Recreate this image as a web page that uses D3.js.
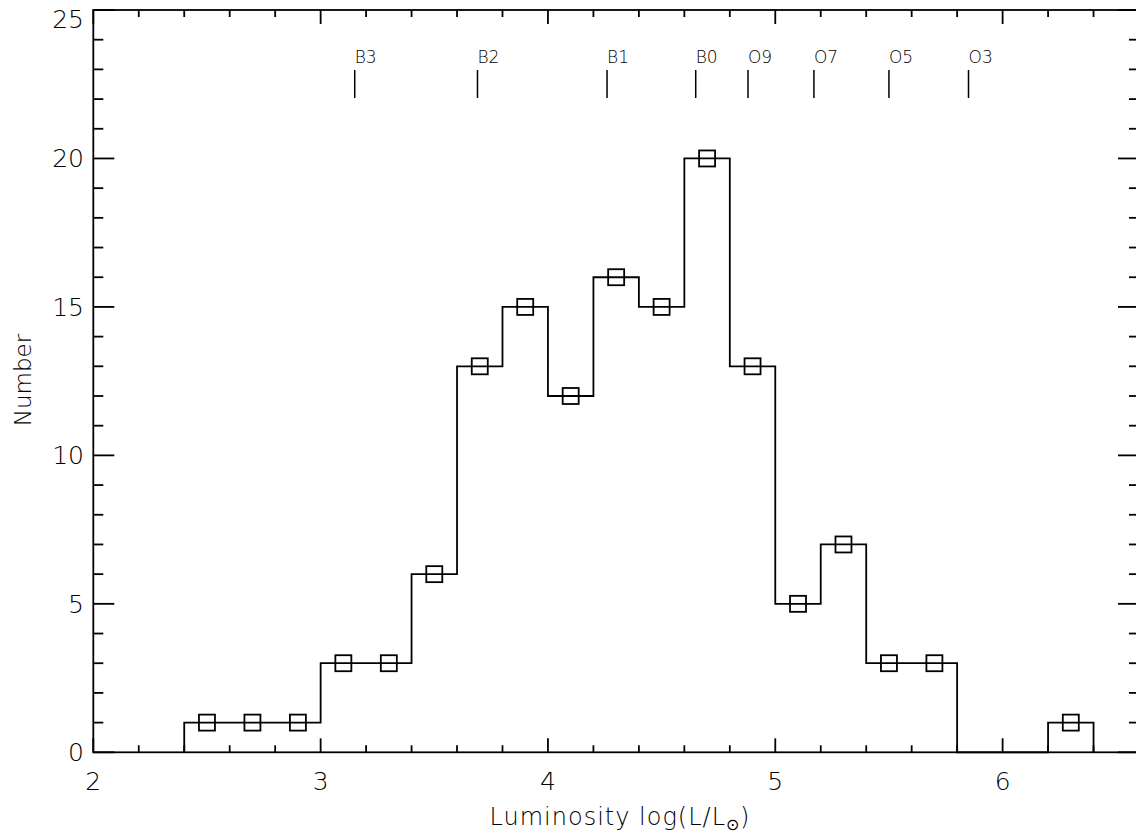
<!DOCTYPE html>
<html>
<head>
<meta charset="utf-8">
<script src="https://cdn.jsdelivr.net/npm/d3@7"></script>
<style>
  body { margin: 0; background: #fff; }
  text { font-family: "DejaVu Sans", "Liberation Sans", sans-serif; font-weight: 200; fill: #000; }
</style>
</head>
<body>
<svg id="chart"></svg>
<script>
// histogram bins (left edge, 0.2 wide) and counts
var binStarts = [2.4, 2.6, 2.8, 3.0, 3.2, 3.4, 3.6, 3.8, 4.0, 4.2, 4.4, 4.6, 4.8, 5.0, 5.2, 5.4, 5.6, 5.8, 6.0, 6.2];
var counts    = [1,   1,   1,   3,   3,   6,   13,  15,  12,  16,  15,  20,  13,  5,   7,   3,   3,   0,   0,   1];
var binWidth = 0.2;

// spectral type markers along the top
var spTypes = ["B3", "B2", "B1", "B0", "O9", "O7", "O5", "O3"];
var spLogL  = [3.15, 3.69, 4.26, 4.65, 4.88, 5.17, 5.50, 5.85];

var xTicks = [2, 3, 4, 5, 6];
var yTicks = [0, 5, 10, 15, 20, 25];

var width = 1136,
    height = 835;

var x = d3.scaleLinear().domain([2, 6.6]).range([93.3, 1139]);
var y = d3.scaleLinear().domain([0, 25]).range([752.3, 10]);

var svg = d3.select("#chart")
    .attr("width", width)
    .attr("height", height);

var lw = 1.8;

// frame
var frame = svg.append("g")
    .style("stroke", "#000")
    .style("stroke-width", lw)
    .style("fill", "none");

frame.append("rect")
    .attr("x", x(2))
    .attr("y", y(25))
    .attr("width", x(6.6) - x(2))
    .attr("height", y(0) - y(25));

// x ticks bottom & top
var xMinor = d3.range(2, 6.6001, 0.2).map(function (d) { return +d.toFixed(1); });
xMinor.forEach(function (d) {
    var major = Math.abs(d - Math.round(d)) < 1e-6;
    var len = major ? 14 : 7;
    frame.append("line")
        .attr("x1", x(d)).attr("x2", x(d))
        .attr("y1", y(0)).attr("y2", y(0) - len);
    frame.append("line")
        .attr("x1", x(d)).attr("x2", x(d))
        .attr("y1", y(25)).attr("y2", y(25) + len);
});

// y ticks left & right
d3.range(0, 26).forEach(function (d) {
    var len = d % 5 === 0 ? 21 : 10;
    frame.append("line")
        .attr("x1", x(2)).attr("x2", x(2) + len)
        .attr("y1", y(d)).attr("y2", y(d));
    frame.append("line")
        .attr("x1", x(6.6)).attr("x2", x(6.6) - len)
        .attr("y1", y(d)).attr("y2", y(d));
});

// tick labels
svg.append("g").selectAll("text")
    .data(xTicks)
    .enter()
    .append("text")
    .attr("x", function (d) { return x(d); })
    .attr("y", 790)
    .attr("text-anchor", "middle")
    .style("font-size", "25px")
    .text(function (d) { return d; });

svg.append("g").selectAll("text")
    .data(yTicks)
    .enter()
    .append("text")
    .attr("x", 84)
    .attr("y", function (d) { return Math.max(y(d) + 9, 28); })
    .attr("text-anchor", "end")
    .style("font-size", "25px")
    .text(function (d) { return d; });

// axis titles
var xt = svg.append("text")
    .attr("x", 620)
    .attr("y", 825)
    .attr("text-anchor", "middle")
    .style("font-size", "24px")
    .style("letter-spacing", "1px");
xt.append("tspan").text("Luminosity log(L/L");
xt.append("tspan").style("font-size", "16px").attr("dy", 5).text("\u2299");
xt.append("tspan").attr("dy", -5).text(")");

svg.append("text")
    .attr("transform", "translate(31,380) rotate(-90)")
    .attr("text-anchor", "middle")
    .style("font-size", "23px")
    .text("Number");

// histogram step outline
var steps = [];
binStarts.forEach(function (b, i) {
    steps.push([b, counts[i]]);
    steps.push([b + binWidth, counts[i]]);
});
steps.unshift([binStarts[0], 0]);
steps.push([binStarts[binStarts.length - 1] + binWidth, 0]);

var line = d3.line()
    .x(function (d) { return x(d[0]); })
    .y(function (d) { return y(d[1]); });

svg.append("path")
    .datum(steps)
    .attr("d", line)
    .style("fill", "none")
    .style("stroke", "#000")
    .style("stroke-width", lw);

// square markers at bin centres (non-empty bins)
var bs = 16;
svg.append("g").selectAll("rect")
    .data(binStarts.map(function (b, i) { return { c: b + binWidth / 2, n: counts[i] }; })
        .filter(function (d) { return d.n > 0; }))
    .enter()
    .append("rect")
    .attr("x", function (d) { return x(d.c) - bs / 2; })
    .attr("y", function (d) { return y(d.n) - bs / 2; })
    .attr("width", bs)
    .attr("height", bs)
    .style("fill", "none")
    .style("stroke", "#000")
    .style("stroke-width", lw);

// spectral type markers
var sp = svg.append("g");
spTypes.forEach(function (t, i) {
    sp.append("line")
        .attr("x1", x(spLogL[i])).attr("x2", x(spLogL[i]))
        .attr("y1", 70).attr("y2", 98)
        .style("stroke", "#000")
        .style("stroke-width", 1.5);
    sp.append("text")
        .attr("x", x(spLogL[i]))
        .attr("y", 63)
        .style("font-size", "17px")
        .text(t);
});
</script>
</body>
</html>
